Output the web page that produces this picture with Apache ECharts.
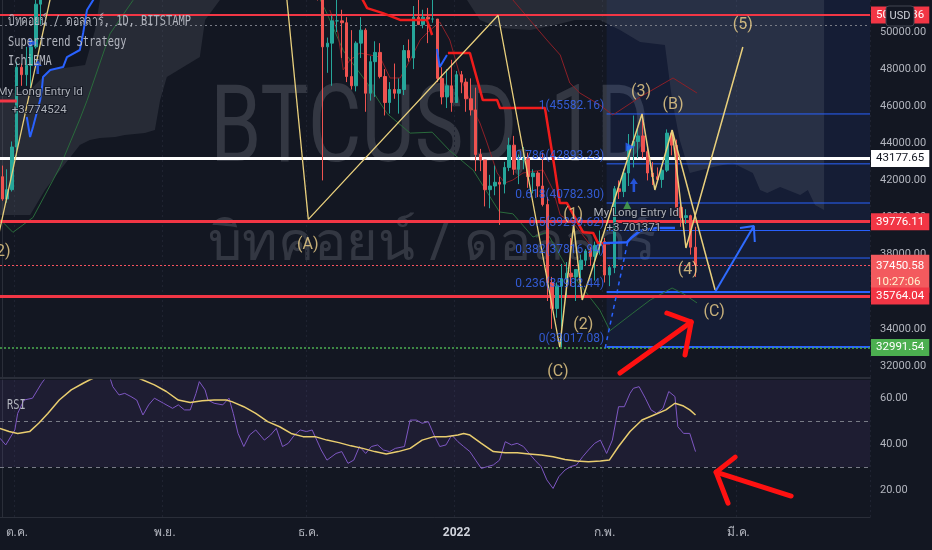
<!DOCTYPE html>
<html>
<head>
<meta charset="utf-8">
<title>BTCUSD 1D</title>
<script src="https://cdn.jsdelivr.net/npm/echarts@6.0.0/dist/echarts.min.js"></script>
<style>
html,body{margin:0;padding:0;background:#131722;overflow:hidden}
#chart{width:932px;height:550px}
</style>
</head>
<body>
<div id="chart"></div>
<script>
// ---------------- DATA ----------------
// daily candles, slot 0 = 2021-09-28 (one slot per candle)
const opens = [42200,41000,41500,43800,48100,47700,48200,49200,51500,55300,
53800,53900,55000,54700,57500,56000,57400,57400,61700,60900,
61500,62000,64300,66000,62200,60700,61300,60900,63100,60300,
58500,60600,62300,61900,61300,61000,63200,62900,61400,61000,
61500,63300,67500,66900,64900,64800,64100,64400,65500,63600,
60100,60400,56900,58100,59700,58700,56300,57600,57200,58900,
53700,54700,57300,57800,56900,57200,56500,53600,49200,49400,
50600,50600,50500,47600,47100,49400,50100,46700,48400,48900,
47600,46200,46900,46700,46900,49000,48600,50800,50400,50800,
50700,50700,47500,46500,47100,46200,47700,47300,46400,45800,
43400,43100,41500,41700,41900,41800,42700,43900,42600,43100,
43200,42200,42400,41700,40700,36500,35100,36300,36700,37000,
36800,37200,37700,38200,37900,38500,38700,36900,37300,41550,
41400,42400,43850,44100,44400,43550,42400,42200,42050,42550,
44550,43900,40550,40000,40100,38400];
const highs = [42800,42600,44100,48400,48300,49200,49500,51900,55700,55300,
56100,55500,56500,57800,57600,58000,58500,62900,62300,61700,
62600,64400,67000,66600,63700,61700,61400,63700,63300,61500,
62500,62900,62300,62400,62400,64300,63500,63100,62600,61500,
63300,67800,68500,69000,65600,65400,64900,65500,66300,63600,
60800,60900,58400,59900,60000,59300,58000,57800,59400,59200,
55300,57400,58900,59200,59000,57400,57600,53900,49700,50900,
51900,51200,50800,50100,49500,50800,50200,48700,49500,49400,
48000,47300,48300,47500,49300,49600,51400,51800,51200,51300,
52000,50700,48100,48000,48500,47900,47900,47500,47500,47000,
43700,43100,42300,42800,42200,43000,44300,44400,43400,43800,
43500,42600,42500,43500,41100,36800,36500,37500,37600,38900,
37200,38000,38300,38400,38700,39300,38900,37400,41700,42000,
42600,44500,45500,44800,45582.16,43900,43000,42700,42850,44750,
44550,44200,40950,40450,40150,39500];
const lows = [40900,40800,41400,43300,47100,47100,46900,49100,50400,53400,
53600,53700,54100,54400,53900,54300,56900,56900,60300,58900,
60000,61400,63500,62100,60000,59700,59600,60700,59800,58100,
57800,60200,60700,59900,59500,60700,60400,60700,60700,60000,
61300,63300,66300,62800,64100,62300,63400,63600,63400,58600,
58400,56500,55600,57500,58500,55700,55400,55900,57000,53500,
53700,53300,56700,56000,56500,55900,51700,42000,47800,47100,
50000,48600,47300,46900,46800,48600,45700,46300,46500,47500,
45500,45600,46400,45600,46600,48400,48000,50400,50200,49400,
50500,47300,46100,45900,45700,46200,46700,45700,45500,42500,
42500,40600,40500,41200,39600,41300,42500,42300,41800,42600,
41600,41300,41100,40600,35500,34000,34600,33017.08,35700,36300,
35500,36200,37400,37400,36600,38000,36500,36300,37000,41000,
41100,41700,42700,43200,43200,42000,41750,41900,41600,42450,
43350,40150,39500,39650,38000,36800];
const closes = [41000,41500,43800,48100,47700,48200,49200,51500,55300,53800,
53900,55000,54700,57500,56000,57400,57400,61700,60900,61500,
62000,64300,66000,62200,60700,61300,60900,63100,60300,58500,
60600,62300,61900,61300,61000,63200,62900,61400,61000,61500,
63300,67500,66900,64900,64800,64100,64400,65500,63600,60100,
60400,56900,58100,59700,58700,56300,57600,57200,58900,53700,
54700,57300,57800,56900,57200,56500,53600,49200,49400,50600,
50600,50500,47600,47100,49400,50100,46700,48400,48900,47600,
46200,46900,46700,46900,49000,48600,50800,50400,50800,50700,
50700,47500,46500,47100,46200,47700,47300,46400,45800,43400,
43100,41500,41700,41900,41800,42700,43900,42600,43100,43200,
42200,42400,41700,40700,36500,35100,36300,36700,37000,36800,
37200,37700,38200,37900,38500,38700,36900,37300,41550,41400,
42400,43850,44100,44400,43550,42400,42200,42050,42550,44550,
43900,40550,40000,40100,38400,37450.58];

const slotCount = 182;                    // visible time slots incl. empty future
const monthSlots = [3, 34, 64, 95, 126, 154];
const monthNames = ['ต.ค.', 'พ.ย.', 'ธ.ค.', '2022', 'ก.พ.', 'มี.ค.'];
const priceTicks = [32000,34000,36000,38000,40000,42000,44000,46000,48000,50000];
const rsiTicks = [20, 40, 60];

// horizontal price levels
const levelPrices = [50916.36, 43177.65, 39776.11, 37450.58, 35764.04, 32991.54];
const dottedLevel = 50380;
const countdown = '10:27:06';

// fibonacci retracement
const fibLevels = ['1', '0.786', '0.618', '0.5', '0.382', '0.236', '0'];
const fibPrices = [45582.16, 42893.23, 40782.30, 39299.62, 37816.94, 35982.44, 33017.08];
const fibStart = 126.4;

// elliott wave paths [slot, price]
const waveLeft = [[-2, 37640], [12.7, 54960]];
const waveABC = [[58.3, 54960], [64, 39900], [103.7, 50900], [116.6, 33017]];
const waveImpulse = [[116.6, 33017], [119.5, 39600], [121.3, 35555], [133.8, 45582], [136.5, 41484], [140.1, 44718], [143, 38357], [154.9, 49191]];
const waveCorr = [[140.1, 44718], [149.1, 36094]];
const waveLabelPts = [[-0.4, 38142], [63.9, 38520], [116.2, 31674], [119.4, 40136], [121.5, 34207], [133.6, 46766], [140.3, 46065], [143.4, 37172], [148.9, 34908], [154.9, 50377]];
const waveLabelTexts = ['(2)', '(A)', '(C)', '(1)', '(2)', '(3)', '(B)', '(4)', '(C)', '(5)'];

// indicator lines [slot, price]
const greenLine = [[-0.5,39900],[2.2,39200],[6.4,40000],[12,42700],[16.2,45300],[17.7,46300],[22.5,49900],[27.3,51700],[30,53000],[40,56000],[50,57500],[60,55500],[65,52500],[67.9,51000],[71.3,49000],[76.3,47250],[80.5,45600],[85.3,44550],[89.9,44600],[93.6,43600],[98.5,42550],[104,40300],[106.8,40200],[111,38950],[113.9,39200],[118.1,37300],[125,35000],[127.1,33900],[131.9,34850],[135.5,35550],[140.1,36200],[142.4,35900],[145.3,35400]];
const stRed1 = [[73.8,52500],[76.3,51290],[79.6,51020],[83.2,50650],[88.8,50650],[89.9,49840]];
const stRed2 = [[93.2,48870],[97.8,48870],[100.5,46330],[103.5,46330],[104.1,45900],[113.5,45900],[115.5,42700],[116.6,40780],[118.1,40780],[121.5,39200],[123.6,39160],[124.6,38620],[127.1,38620]];
const stBlue1 = [[5.1,45420],[5.8,44340],[6.4,44880],[7.9,46335],[8.3,47036],[8.5,47575],[10,47950],[12.7,48110],[13.5,48650],[16.2,49030],[16.9,49950],[17.7,51190],[19,51725],[19.8,52800]];
const stBlue2 = [[90.9,49084],[91.5,48114],[93,48760]];
const stBlue3 = [[125.7,38620],[130.7,38670],[131.7,38940],[133.5,39300],[136.9,39435],[140.7,39435]];
const entryStop = [[-0.5,46280],[3,46280]];
const thinRedUpper = [[105.1,52800],[106.8,51725],[113.9,49569],[116.7,48760],[118.7,47251],[120.8,46712],[125,46065],[127.7,45526],[133.4,46496],[140.3,47520],[145.3,46712]];
const thinRedLower = [[68.5,51186],[70.2,49946],[71.3,47952],[72.7,48491],[74.8,48868],[76.9,48760],[79,48653],[81.1,47521],[83.2,47521],[85.3,48491],[87.4,49569],[88.8,49946],[91.5,50539],[93.6,49569],[95.7,47682],[98.5,45796],[99.9,45095],[101.4,44017],[103.5,42400],[105.1,41861],[106.8,42023],[108.9,42400],[113.1,42562],[115.2,41484],[116.7,40136],[119.8,39597],[123,38519]];
const cloudLeft = [[-0.5,46604],[5.8,46874],[10,47950],[17.3,48221],[19.4,50108],[20.4,51725],[20.4,53500],[46.6,53500],[45.5,51725],[42.4,50647],[41.3,48653],[34.4,47575],[33,46335],[31.9,44718],[29.8,44556],[25.6,44448],[23.6,44340],[20.4,44287],[18.3,44179],[16.2,43909],[12.1,42562],[8.9,41484],[5.8,40136],[-0.5,40136]];
const cloudRight = [[97.2,53500],[171.9,53500],[171.9,40406],[170,40675],[168.5,41484],[166.9,41214],[162.7,41645],[160,41322],[158.5,41484],[157,42400],[152.8,42939],[148.7,42723],[143.8,42400],[141.7,44179],[140.1,46335],[138.6,49299],[133.4,49461],[129.2,50108],[125,50647],[119.8,50647],[115.6,50377],[110.4,50108],[104.1,50216],[99.9,50647],[97.2,51725]];
const dashedBlue = [[126.1,32967],[130.9,38790]];
const blueArrowShaft = [[149.1,35986],[157.2,39543]];
const blueArrowHead = [[154.3,39435],[157.2,39543],[157.4,38681]];
const redArrowShaft = [[129.2,31620],[144.1,34369]];
const redArrowHead = [[139,34854],[144.1,34369],[142.8,32590]];
const rsiArrowShaft = [[165,17.4],[149.3,27.8]];
const rsiArrowHead = [[153.3,34.3],[149.3,27.8],[151.8,14.3]];

// strategy labels and markers
const entryPts = [[7.9,46766],[7.7,45796],[132.6,40244],[132.1,39435]];
const entryTexts = ['My Long Entry Id', '+3.774524', 'My Long Entry Id', '+3.701371'];
const triRightPts = [[6.4,49407],[131.3,43801]];
const upArrowPts = [[7.4,48114],[132.1,41753]];
const triGreenPts = [[130.7,40675]];

// RSI pane [slot, value]
const rsiPoints = [[-0.5,42.5],[0.7,39.6],[2.6,46.1],[3.2,53.3],[4.5,59.1],[6.3,59.9],[8.2,66.4],[9.5,70],[10.5,72],[12,75],[13.5,71],[15,76],[16.5,73],[18,78],[19.5,74],[21,70],[22,72],[23.1,64.9],[24.4,61.3],[25.6,62.0],[26.9,60.6],[28.1,59.1],[29.4,52.6],[30.6,57.0],[31.8,59.9],[33.7,57.7],[35.6,55.5],[36.8,57.0],[38.1,54.8],[39.3,54.8],[40.5,62.0],[41.2,67.1],[42.4,63.5],[43.0,59.1],[44.3,57.7],[46.1,57.0],[47.4,59.9],[48.3,53.3],[49.3,44.6],[50.5,38.9],[51.7,43.9],[53.0,46.1],[54.8,41.7],[56.1,43.9],[57.3,46.8],[58.6,38.9],[59.8,40.3],[61.1,43.9],[62.3,46.1],[63.6,45.4],[64.8,46.1],[66.7,37.4],[67.9,33.0],[69.8,35.9],[71.0,36.7],[72.3,31.6],[73.5,33.0],[74.7,38.9],[76.0,35.9],[77.2,38.9],[78.5,39.6],[79.7,37.4],[81.0,36.7],[82.2,38.1],[84.1,38.9],[85.3,50.4],[86.6,50.4],[87.8,49.0],[89.1,49.7],[90.3,43.9],[91.5,38.9],[92.8,39.6],[94.0,43.9],[95.3,41.0],[96.5,38.9],[97.8,36.7],[99.0,33.0],[100.2,29.4],[101.5,30.2],[102.7,30.9],[104.0,33.0],[105.2,41.0],[106.5,39.6],[107.7,40.3],[109.0,38.9],[110.2,35.9],[111.4,33.0],[112.7,30.2],[113.9,24.4],[115.2,20.7],[116.4,25.8],[117.7,28.7],[118.9,30.2],[120.1,30.9],[121.4,34.5],[122.6,37.4],[123.9,40.3],[125.1,41.7],[126.4,35.9],[127.6,41.7],[128.9,56.2],[130.1,56.2],[131.3,62.0],[132.0,64.2],[133.2,64.9],[134.5,59.9],[135.7,54.8],[136.9,53.3],[138.2,55.5],[139.4,62.8],[140.7,60.6],[141.3,47.5],[142.5,44.6],[143.8,44.6],[145.0,36.7]];
const rsiMaPoints = [[-0.5,46.8],[1.4,45.4],[3.2,44.6],[5.7,45.4],[7.6,49.0],[9.5,53.3],[11.9,59.1],[14.4,63.5],[16.9,66.4],[18.2,67.8],[20.6,70],[24.4,71.5],[26.9,70],[29.4,67.8],[31.8,65.7],[34.3,62.8],[36.8,59.1],[39.3,58.0],[41.8,58.8],[44.3,59.1],[46.8,59.1],[48.0,58.4],[50.5,56.2],[53.0,53.3],[55.5,49.7],[58.0,47.5],[60.4,44.6],[62.9,43.2],[65.4,43.2],[67.9,41.7],[70.4,40.6],[72.9,39.2],[75.4,38.1],[77.9,36.7],[80.3,35.7],[82.8,36.7],[85.3,38.1],[87.8,41.7],[90.3,43.2],[92.8,43.2],[95.3,43.9],[96.5,44.6],[97.8,43.9],[100.2,40.3],[102.7,36.7],[105.2,36.2],[107.7,36.2],[110.2,35.7],[112.7,35.2],[115.2,34.5],[117.7,33.3],[120.1,32.6],[122.6,32.3],[125.1,32.6],[127.0,33.1],[128.9,38.9],[131.3,45.4],[133.8,50.4],[136.3,52.6],[138.8,54.8],[140.7,57.7],[142.5,56.5],[143.8,54.8],[145.0,52.6]];
const rsiBands = [50, 30];

// ---------------- CHART ----------------
const priceMin = 31350, priceMax = 51725;
const rsiMin = 8.3, rsiMax = 67.8;
const slotNames = Array.from({length: slotCount}, (_, i) => String(i));
const candleData = opens.map((o, i) => [o, closes[i], lows[i], highs[i]]);
const FONT = 'Roboto, "Noto Sans", "DejaVu Sans", sans-serif';

const chart = echarts.init(document.getElementById('chart'), null, {width: 932, height: 550});

function line(data, color, width, extra) {
  return Object.assign({
    type: 'line', xAxisIndex: 1, yAxisIndex: 0, data: data, symbol: 'none', silent: true,
    animation: false, z: 5, lineStyle: {color: color, width: width}
  }, extra || {});
}
function poly(points, fill, z) {
  return {
    type: 'custom', xAxisIndex: 1, yAxisIndex: 0, data: [0], silent: true, clip: true, z: z,
    animation: false,
    renderItem: function (params, api) {
      return {type: 'polygon', shape: {points: points.map(p => api.coord(p))}, style: {fill: fill}};
    }
  };
}
function textScatter(points, texts, labelOpt, xi, yi, z) {
  return {
    type: 'scatter', xAxisIndex: xi, yAxisIndex: yi, silent: true, animation: false, z: z || 8,
    symbolSize: 1, itemStyle: {color: 'rgba(0,0,0,0)'},
    data: points,
    label: Object.assign({show: true, position: 'inside', formatter: p => texts[p.dataIndex]}, labelOpt)
  };
}

// level line styles (by index of levelPrices)
const levelStyle = [
  {c: '#f23645', w: 2, t: 'solid', bg: '#f23645', fg: '#ffffff'},
  {c: '#ffffff', w: 3, t: 'solid', bg: '#ffffff', fg: '#131722'},
  {c: '#f23645', w: 3, t: 'solid', bg: '#f23645', fg: '#ffffff'},
  {c: '#f7525f', w: 1, t: [2, 2], bg: '#f35a5e', fg: '#ffffff'},
  {c: '#f23645', w: 3, t: 'solid', bg: '#f23645', fg: '#ffffff'},
  {c: '#4caf50', w: 1.5, t: [2, 2], bg: '#4caf50', fg: '#ffffff'}
];
const markLineData = levelPrices.map((p, i) => {
  const s = levelStyle[i];
  const isCurrent = i === 3;
  return {
    yAxis: p,
    lineStyle: {color: s.c, width: s.w, type: s.t},
    label: {
      show: true, position: 'end', distance: 1,
      formatter: isCurrent ? ('{a|' + p.toFixed(2) + '}\n{b|' + countdown + '}') : p.toFixed(2),
      backgroundColor: s.bg, color: s.fg, padding: isCurrent ? [3, 5, 3, 5] : [3, 5, 2, 5],
      fontSize: 11.5, fontFamily: FONT, offset: isCurrent ? [0, 9] : [0, 0],
      rich: isCurrent ? {a: {color: '#ffffff', fontSize: 11.5, lineHeight: 16, fontFamily: FONT}, b: {color: '#fff3cf', fontSize: 11.5, lineHeight: 16, fontFamily: FONT}} : undefined
    }
  };
});
markLineData.unshift({yAxis: dottedLevel, lineStyle: {color: '#787b86', width: 1, type: [2, 3]}, label: {show: false}});

const fibSeries = fibPrices.map((p, i) => line([[fibStart, p], [slotCount - 0.5, p]], '#2962ff', i >= 5 ? 2 : 1, {z: 4}));

const series = [
  poly([[fibStart, fibPrices[6]], [slotCount - 0.5, fibPrices[6]], [slotCount - 0.5, 53500], [fibStart, 53500]], 'rgba(41,98,255,0.09)', 1),
  poly(cloudLeft, 'rgba(120,123,134,0.2)', 1),
  poly(cloudRight, 'rgba(120,123,134,0.2)', 1),
  ...fibSeries,
  line(greenLine, '#2a6b3c', 1, {z: 4}),
  line(thinRedUpper, '#8c2028', 1, {z: 4}),
  line(thinRedLower, '#8c2028', 1, {z: 4}),
  {
    type: 'candlestick', xAxisIndex: 0, yAxisIndex: 0, data: candleData, barWidth: 3,
    animation: false, silent: true, z: 6, clip: true,
    itemStyle: {color: '#26a69a', color0: '#ef5350', borderColor: '#26a69a', borderColor0: '#ef5350', borderWidth: 1},
    markLine: {silent: true, symbol: ['none', 'none'], animation: false, data: markLineData}
  },
  line(stRed1, '#f01c1c', 2.5, {z: 7}),
  line(stRed2, '#f01c1c', 2.5, {z: 7}),
  line(stBlue1, '#2962ff', 2, {z: 7}),
  line(stBlue2, '#2962ff', 2, {z: 7}),
  line(stBlue3, '#2962ff', 2.5, {z: 7}),
  line(entryStop, '#f23645', 3, {z: 7}),
  line(dashedBlue, '#2962ff', 1.5, {z: 7, lineStyle: {color: '#2962ff', width: 1.5, type: [4, 4]}}),
  line(waveLeft, '#e8cf7c', 1.3, {z: 8}),
  line(waveABC, '#e8cf7c', 1.3, {z: 8}),
  line(waveImpulse, '#e8cf7c', 1.5, {z: 8}),
  line(waveCorr, '#e8cf7c', 1.5, {z: 8}),
  line(blueArrowShaft, '#2f6bff', 2, {z: 8}),
  line(blueArrowHead, '#2f6bff', 2, {z: 8}),
  line(redArrowShaft, '#ff1111', 5, {z: 9, lineStyle: {color: '#ff1111', width: 5, cap: 'round', join: 'round'}}),
  line(redArrowHead, '#ff1111', 5, {z: 9, lineStyle: {color: '#ff1111', width: 5, cap: 'round', join: 'round'}}),
  textScatter(waveLabelPts, waveLabelTexts, {color: '#f2d58c', fontSize: 16, fontFamily: FONT}, 1, 0, 10),
  textScatter(fibPrices.map(p => [fibStart, p]), fibPrices.map((p, i) => fibLevels[i] + '(' + p.toFixed(2) + ')'),
    {position: 'left', distance: 2, offset: [0, -8], color: '#3b6cff', fontSize: 12, fontFamily: FONT}, 1, 0, 9),
  textScatter(entryPts, entryTexts, {color: '#d1d4dc', fontSize: 11.5, fontFamily: FONT, textBorderColor: '#131722', textBorderWidth: 2}, 1, 0, 11),
  {type: 'scatter', xAxisIndex: 1, yAxisIndex: 0, data: triRightPts, symbol: 'triangle', symbolRotate: -90, symbolSize: 9, itemStyle: {color: '#2962ff'}, silent: true, animation: false, z: 10},
  {type: 'scatter', xAxisIndex: 1, yAxisIndex: 0, data: upArrowPts, symbol: 'path://M5 0 L10 6 L6.6 6 L6.6 14 L3.4 14 L3.4 6 L0 6 Z', symbolSize: [8, 14], itemStyle: {color: '#2962ff'}, silent: true, animation: false, z: 10},
  {type: 'scatter', xAxisIndex: 1, yAxisIndex: 0, data: triGreenPts, symbol: 'triangle', symbolSize: 8, itemStyle: {color: '#4caf50'}, silent: true, animation: false, z: 10},
  // RSI pane
  {
    type: 'line', xAxisIndex: 3, yAxisIndex: 1, data: rsiPoints, symbol: 'none', silent: true, animation: false, z: 5,
    lineStyle: {color: '#7e57c2', width: 1},
    markArea: {silent: true, itemStyle: {color: 'rgba(126,87,194,0.1)'}, data: [[{yAxis: rsiBands[1]}, {yAxis: rsiMax}]]},
    markLine: {silent: true, symbol: ['none', 'none'], animation: false, label: {show: false},
      lineStyle: {color: '#787b86', width: 1, type: [4, 4]}, data: rsiBands.map(v => ({yAxis: v}))}
  },
  {type: 'line', xAxisIndex: 3, yAxisIndex: 1, data: rsiMaPoints, symbol: 'none', silent: true, animation: false, z: 6,
    lineStyle: {color: '#e9cd6f', width: 1.5}},
  line(rsiArrowShaft, '#ff1111', 5, {xAxisIndex: 3, yAxisIndex: 1, z: 9, lineStyle: {color: '#ff1111', width: 5, cap: 'round', join: 'round'}}),
  line(rsiArrowHead, '#ff1111', 5, {xAxisIndex: 3, yAxisIndex: 1, z: 9, lineStyle: {color: '#ff1111', width: 5, cap: 'round', join: 'round'}})
];

const monthInterval = (index) => monthSlots.indexOf(index) >= 0;
const wmColor = 'rgba(120,123,134,0.32)';
const legendFont = '14px "DejaVu Sans Mono", "Noto Sans", monospace';

const option = {
  backgroundColor: '#131722',
  animation: false,
  textStyle: {fontFamily: FONT},
  grid: [
    {left: 0, right: 62, top: 0, height: 378},
    {left: 0, right: 62, top: 380, height: 137}
  ],
  xAxis: [
    {type: 'category', gridIndex: 0, data: slotNames, boundaryGap: true,
      axisLine: {show: true, lineStyle: {color: '#2a2e39', width: 2}}, axisTick: {show: false}, axisLabel: {show: false},
      splitLine: {show: true, interval: monthInterval, lineStyle: {color: '#1f2331', type: [2, 3]}}},
    {type: 'value', gridIndex: 0, min: -0.5, max: slotCount - 0.5, show: false},
    {type: 'category', gridIndex: 1, data: slotNames, boundaryGap: true,
      axisLine: {show: true, lineStyle: {color: '#2a2e39', width: 1}}, axisTick: {show: false},
      splitLine: {show: true, interval: monthInterval, lineStyle: {color: '#1f2331', type: [2, 3]}},
      axisLabel: {
        interval: monthInterval, color: '#b2b5be', fontSize: 12, margin: 10, fontFamily: FONT,
        formatter: function (v) {
          const k = monthSlots.indexOf(Number(v));
          if (k < 0) return '';
          return monthNames[k] === '2022' ? '{y|2022}' : monthNames[k];
        },
        rich: {y: {fontWeight: 'bold', color: '#d1d4dc', fontSize: 12, fontFamily: FONT}}
      }},
    {type: 'value', gridIndex: 1, min: -0.5, max: slotCount - 0.5, show: false}
  ],
  yAxis: [
    {type: 'value', gridIndex: 0, position: 'right', min: priceMin, max: priceMax,
      axisLine: {show: true, lineStyle: {color: '#2a2e39'}}, axisTick: {show: false}, splitLine: {show: false},
      axisLabel: {customValues: priceTicks, formatter: v => Number(v).toFixed(2), color: '#b2b5be', fontSize: 11, margin: 10, fontFamily: FONT}},
    {type: 'value', gridIndex: 1, position: 'right', min: rsiMin, max: rsiMax,
      axisLine: {show: true, lineStyle: {color: '#2a2e39'}}, axisTick: {show: false}, splitLine: {show: false},
      axisLabel: {customValues: rsiTicks, formatter: v => Number(v).toFixed(2), color: '#b2b5be', fontSize: 11, margin: 10, fontFamily: FONT}}
  ],
  graphic: [
    {type: 'text', x: 430, y: 134, scaleX: 0.76, z: 0, silent: true,
      style: {text: 'BTCUSD, 1D', font: '108px Roboto, sans-serif', fill: wmColor, textAlign: 'center', textVerticalAlign: 'middle'}},
    {type: 'text', x: 432, y: 245, z: 0, silent: true,
      style: {text: 'บิทคอยน์ / ดอลลาร์', font: '54px "Noto Sans", "DejaVu Sans", sans-serif', fill: wmColor, textAlign: 'center', textVerticalAlign: 'middle'}},
    {type: 'text', x: 8, y: 21, scaleX: 0.74, z: 100, silent: true,
      style: {text: 'บิทคอยน์ / ดอลลาร์, 1D, BITSTAMP', font: legendFont, fill: '#b2b5be', textVerticalAlign: 'middle'}},
    {type: 'text', x: 8, y: 42, scaleX: 0.74, z: 100, silent: true,
      style: {text: 'Supertrend Strategy', font: legendFont, fill: '#b2b5be', textVerticalAlign: 'middle'}},
    {type: 'text', x: 8, y: 61, scaleX: 0.74, z: 100, silent: true,
      style: {text: 'IchiEMA', font: legendFont, fill: '#b2b5be', textVerticalAlign: 'middle'}},
    {type: 'text', x: 7, y: 405, scaleX: 0.74, z: 100, silent: true,
      style: {text: 'RSI', font: legendFont, fill: '#b2b5be', textVerticalAlign: 'middle'}},
    {type: 'rect', x: 886, y: 6, z: 200, silent: true, shape: {width: 28, height: 20, r: 3},
      style: {fill: '#131722', stroke: '#434651', lineWidth: 1}},
    {type: 'text', x: 900, y: 16, z: 201, silent: true,
      style: {text: 'USD', font: '11px Roboto, sans-serif', fill: '#d1d4dc', textAlign: 'center', textVerticalAlign: 'middle'}}
  ],
  series: series
};
chart.setOption(option);
</script>
</body>
</html>
